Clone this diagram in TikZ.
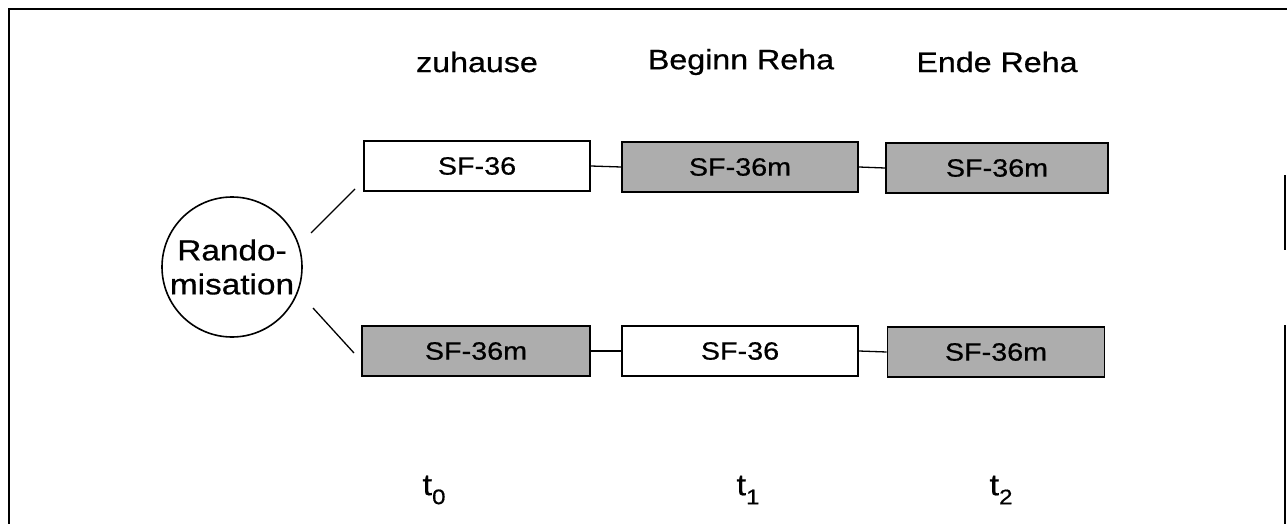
\documentclass[tikz,border=0pt]{standalone}
\usepackage{fontspec}
\setmainfont[FakeStretch=1.15,FakeBold=0.6]{Liberation Sans}
\begin{document}
\begin{tikzpicture}[x=1pt,y=-1pt,
  line width=1.8pt,
  box/.style={draw=black, minimum width=226pt, minimum height=50pt, inner sep=0pt, font=\fontsize{25}{27}\selectfont},
  plainbox/.style={box, fill=white},
  shadedbox/.style={box, fill=black!32},
  head/.style={font=\fontsize{28}{31}\selectfont, inner sep=0pt},
  tlab/.style={font=\fontsize{30}{33}\selectfont, inner sep=0pt},
  conn/.style={draw=black, line width=1.3pt}]
\useasboundingbox (0,0) rectangle (1287,524);
% frame
\draw[line width=1.6pt] (9,524) -- (9,9) -- (1287,9);
\draw[line width=1.4pt] (1285,175) -- (1285,250);
\draw[line width=1.4pt] (1285,325) -- (1285,524);
% headers
\node[head] (h0) at (477,62) {zuhause};
\node[head] (h1) at (741,62) {Beginn Reha};
\node[head] (h2) at (997,62) {Ende Reha};
% boxes
\node[plainbox, minimum width=226pt] (a0) at (477,166) {SF-36};
\node[shadedbox, minimum width=236pt] (a1) at (740,167) {SF-36m};
\node[shadedbox, minimum width=222pt] (a2) at (997,168) {SF-36m};
\node[shadedbox, minimum width=228pt] (b0) at (476,351) {SF-36m};
\node[plainbox, minimum width=236pt] (b1) at (740,351) {SF-36};
\node[shadedbox, minimum width=217pt] (b2) at (996,352) {SF-36m};
% circle
\node[draw, circle, minimum size=140pt, inner sep=0pt, line width=1.6pt,
  font=\fontsize{29}{34}\selectfont, align=center] (r) at (232,267) {Rando-\\misation};
% connectors
\coordinate (r1) at (311,233);
\coordinate (r2) at (313,308);
\coordinate (a0w) at (355,189);
\coordinate (b0w) at (354,353);
\draw[conn] (r1) -- (a0w);
\draw[conn] (r2) -- (b0w);
\draw[conn] (a0.east) -- (a1.west);
\draw[conn] (a1.east) -- (a2.west);
\draw[conn] (b0.east) -- (b1.west);
\draw[conn] (b1.east) -- (b2.west);
% time labels
\node[tlab] (t0) at (434,490) {t\raisebox{-0.3em}{\fontsize{21}{23}\selectfont 0}};
\node[tlab] (t1) at (748,490) {t\raisebox{-0.3em}{\fontsize{21}{23}\selectfont 1}};
\node[tlab] (t2) at (1001,490) {t\raisebox{-0.3em}{\fontsize{21}{23}\selectfont 2}};
\end{tikzpicture}
\end{document}
